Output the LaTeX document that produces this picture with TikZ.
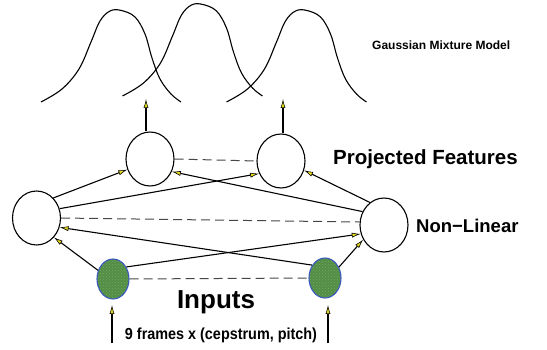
\documentclass[tikz,border=0pt]{standalone}
\usepackage{fontspec}
\setmainfont{Liberation Sans}
\usetikzlibrary{shapes.geometric,arrows.meta,patterns}

\definecolor{tipyellow}{RGB}{230,220,30}
\definecolor{inputgreen}{RGB}{84,142,70}
\definecolor{inputdots}{RGB}{110,170,95}
\definecolor{inputedge}{RGB}{60,90,190}
\definecolor{dashgray}{RGB}{70,70,70}

\tikzset{
  unit/.style={ellipse,draw=black,line width=1.1pt,minimum width=48pt,minimum height=54pt,inner sep=0pt},
  inunit/.style={ellipse,draw=inputedge,line width=1.1pt,minimum width=32pt,minimum height=40pt,inner sep=0pt,
    preaction={fill=inputgreen},pattern=crosshatch dots,pattern color=inputdots},
  link/.style={line width=1.1pt,-{Latex[length=9pt,width=5pt,fill=tipyellow,line width=0.6pt]}},
  tie/.style={line width=1pt,draw=dashgray,dash pattern=on 9pt off 5pt},
  bump/.style={line width=1.1pt},
  lbl/.style={font=\bfseries,inner sep=0pt,anchor=west}
}

\begin{document}
\begin{tikzpicture}[x=1pt,y=-1pt]
\useasboundingbox (0,0) rectangle (547,350);

% Gaussian mixture components
\foreach \dx/\dy in {0/0,81.5/-6,185.5/0}{
  \draw[bump,shift={(\dx,\dy)}] plot[smooth,tension=0.6] coordinates
    {(41,102) (62,89) (79,69) (91,42) (100,21) (110,11)
     (121,10.4) (135,17) (145,34) (152,58) (160,79) (171,94) (181,102)};
}

% Units
\node[unit] (p1) at (150,159) {};
\node[unit] (p2) at (281,161) {};
\node[unit] (nl1) at (36.5,218) {};
\node[unit] (nl2) at (384,225) {};
\node[inunit] (in1) at (113,279) {};
\node[inunit] (in2) at (325,278) {};

% Labels
\node[lbl,font=\bfseries\fontsize{12}{12}\selectfont] (gmm) at (372,45) {Gaussian Mixture Model};
\node[lbl,font=\bfseries\fontsize{20.5}{20}\selectfont] (proj) at (333,159) {Projected Features};
\node[lbl,font=\bfseries\fontsize{18.5}{18}\selectfont] (nonlin) at (416,226) {Non{\char"2212}Linear};
\node[font=\bfseries\fontsize{26}{26}\selectfont,inner sep=0pt] (inputs) at (216,302) {Inputs};
\node[font=\bfseries\fontsize{16}{16}\selectfont,inner sep=0pt,xscale=0.9] (frames) at (221,335) {9 frames x (cepstrum, pitch)};

% Lateral ties
\draw[tie] (p1.0) -- (p2.180);
\draw[tie] (nl1.0) -- (nl2.173);
\draw[tie] (in1.0) -- (in2.180);

% Non-linear layer to projected features
\draw[link] (nl1.50) -- (p1.205);
\draw[link] (nl1.22) -- (p2.210);
\draw[link] (nl2.148) -- (p1.-30);
\draw[link] (nl2.122) -- (p2.-22);

% Inputs to non-linear layer
\draw[link] (in1.150) -- (nl1.-48);
\draw[link] (in1.42) -- (nl2.201);
\draw[link] (in2.135) -- (nl1.-22);
\draw[link] (in2.38) -- (nl2.215);

% Projected features feeding the mixture
\coordinate (g1) at (146,99);
\coordinate (g2) at (283,99);
\draw[link] (g1 |- p1.north) -- (g1);
\draw[link] (g2 |- p2.north) -- (g2);

% Input frames
\coordinate (f1) at (112,343);
\coordinate (f2) at (328,343);
\draw[link] (f1) -- (f1 |- 0,305);
\draw[link] (f2) -- (f2 |- 0,305);
\end{tikzpicture}
\end{document}
